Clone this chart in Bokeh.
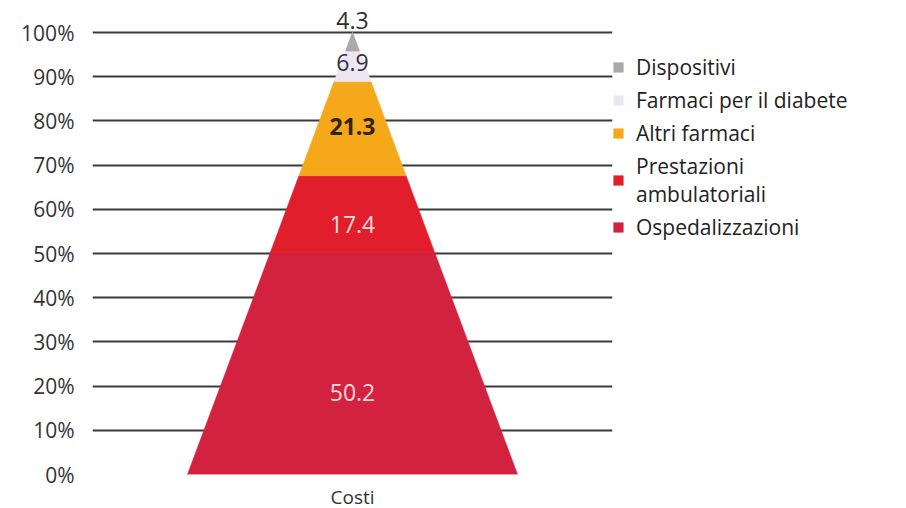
from bokeh.plotting import figure
from bokeh.models import (Range1d, FixedTicker, PrintfTickFormatter, Legend,
                          LegendItem, ColumnDataSource)
from bokeh.core.properties import value
from bokeh.embed import file_html
from bokeh.resources import INLINE

# Cost components, stacked from the base of the pyramid upwards (% of total)
categories = ["Ospedalizzazioni", "Prestazioni ambulatoriali", "Altri farmaci",
              "Farmaci per il diabete", "Dispositivi"]
legend_labels = ["Ospedalizzazioni", "Prestazioni\nambulatoriali", "Altri farmaci",
                 "Farmaci per il diabete", "Dispositivi"]
shares = [50.2, 17.4, 21.3, 6.9, 4.3]
x_label = "Costi"
y_ticks = [0, 10, 20, 30, 40, 50, 60, 70, 80, 90, 100]

# Styling
colors = ["#d3223f", "#e11f2c", "#f6a81b", "#ede6f1", "#a9a9a9"]
label_colors = ["#fbd9dc", "#fbd9dc", "#2e2410", "#2f3340", "#2f2f2f"]
label_styles = ["normal", "normal", "bold", "normal", "normal"]
label_anchor = [0.37, 0.37, 0.52, 0.62, 1.6]   # fraction of each slice height
HALF_BASE = 0.635                               # half width of the pyramid base
FONT = "Open Sans"

total = sum(shares)


def half_width(level):
    return HALF_BASE * (1 - level / total)


p = figure(frame_width=520, frame_height=472, output_backend="svg",
           toolbar_location=None,
           x_range=Range1d(-1, 1), y_range=Range1d(0, 106.8),
           min_border_left=92, min_border_right=0,
           min_border_top=2, min_border_bottom=0)
p.outline_line_color = None
p.background_fill_color = "white"
p.border_fill_color = "white"

# Grid
p.xgrid.visible = False
p.ygrid.ticker = FixedTicker(ticks=y_ticks)
p.ygrid.grid_line_color = "#3a3a3a"
p.ygrid.grid_line_width = 2

# Axes
p.yaxis.ticker = FixedTicker(ticks=y_ticks)
p.yaxis.formatter = PrintfTickFormatter(format="%d%%")
p.yaxis.axis_line_color = None
p.yaxis.major_tick_line_color = None
p.yaxis.minor_tick_line_color = None
p.yaxis.major_label_standoff = 12
p.yaxis.major_label_text_font = FONT
p.yaxis.major_label_text_font_size = "21px"
p.yaxis.major_label_text_color = "#333333"

p.xaxis.ticker = FixedTicker(ticks=[0])
p.xaxis.major_label_overrides = {0: x_label}
p.xaxis.axis_line_color = None
p.xaxis.major_tick_line_color = None
p.xaxis.minor_tick_line_color = None
p.xaxis.major_tick_out = 0
p.xaxis.major_label_standoff = 9
p.xaxis.major_label_text_font = FONT
p.xaxis.major_label_text_font_size = "19px"
p.xaxis.major_label_text_color = "#333333"

# Pyramid slices
renderers = []
bottom = 0.0
label_y = []
for share, color, anchor in zip(shares, colors, label_anchor):
    top = bottom + share
    xs = [-half_width(bottom), half_width(bottom), half_width(top), -half_width(top)]
    ys = [bottom, bottom, top, top]
    r = p.patch(xs, ys, fill_color=color, line_color=color, line_width=0.5)
    renderers.append(r)
    label_y.append(bottom + anchor * share)
    bottom = top

labels = ColumnDataSource(dict(
    x=[0.0] * len(shares), y=label_y,
    text=[f"{s:.1f}" for s in shares],
    color=label_colors, style=label_styles,
))
p.text(x="x", y="y", text="text", source=labels, text_color="color",
       text_font_style="style", text_align="center", text_baseline="middle",
       text_font=value(FONT), text_font_size=value("23px"))

# Legend, listed from the top slice down
items = [LegendItem(label=lab, renderers=[r])
         for lab, r in reversed(list(zip(legend_labels, renderers)))]
legend = Legend(items=items, location="top_left", margin=0, padding=24,
                spacing=5, glyph_width=12, glyph_height=12, label_standoff=12,
                label_text_font=FONT, label_text_font_size="21px",
                label_text_color="#222222", border_line_color=None,
                background_fill_alpha=0, title="\u00a0",
                title_text_font_size="10px", title_standoff=40)
p.add_layout(legend, "right")

open("out.html", "w").write(file_html(p, INLINE))
